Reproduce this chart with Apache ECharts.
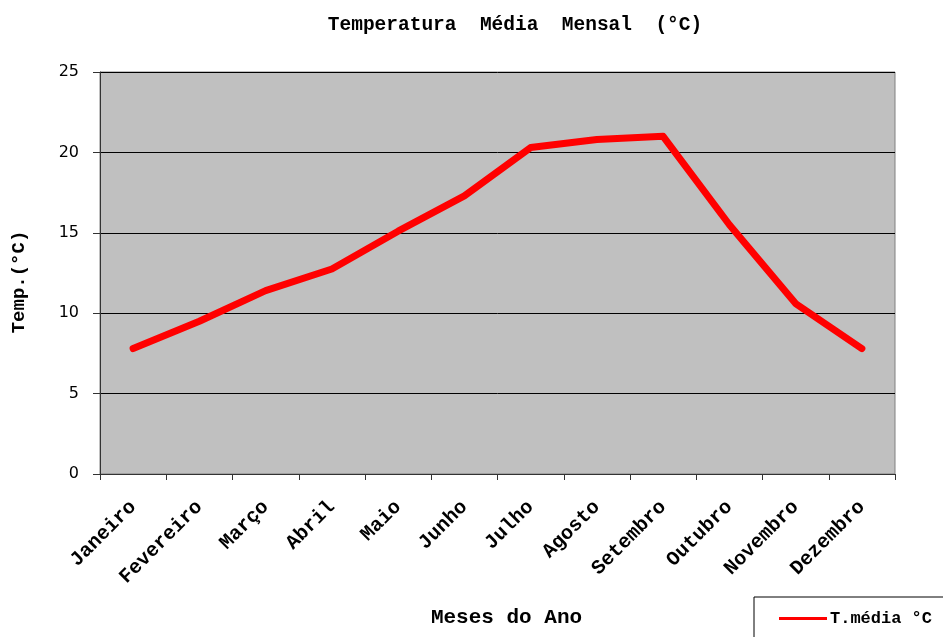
<!DOCTYPE html>
<html style="height: 100%;">
<head>
<meta charset="utf-8">
<title>Temperatura Média Mensal</title>
<script type="text/javascript" src="https://cdn.jsdelivr.net/npm/echarts@6/dist/echarts.min.js"></script>
</head>
<body style="height: 100%; margin: 0; background: #fff;">
<div id="container" style="width: 943px; height: 637px;"></div>
<script type="text/javascript">
var meses = ['Janeiro', 'Fevereiro', 'Março', 'Abril', 'Maio', 'Junho',
             'Julho', 'Agosto', 'Setembro', 'Outubro', 'Novembro', 'Dezembro'];
var tempMedia = [7.8, 9.5, 11.4, 12.75, 15.1, 17.3, 20.3, 20.8, 21.0, 15.5, 10.6, 7.8];
var nomeSerie = 'T.média °C';

var mono = '"Liberation Mono", "Courier New", monospace';
var sans = '"DejaVu Sans", Verdana, sans-serif';

var myChart = echarts.init(document.getElementById('container'));
var option = {
    backgroundColor: '#ffffff',
    animation: false,
    title: {
        text: 'Temperatura  Média  Mensal  (°C)',
        left: 510,
        top: 10,
        textAlign: 'center',
        textStyle: { fontFamily: mono, fontWeight: 'bold', fontSize: 19.5, color: '#000' }
    },
    legend: {
        data: [nomeSerie],
        left: 754,
        top: 597,
        padding: [13, 30, 30, 25],
        borderColor: '#000',
        borderWidth: 1,
        itemWidth: 48,
        itemHeight: 3,
        itemGap: 4,
        icon: 'rect',
        textStyle: { fontFamily: mono, fontWeight: 'bold', fontSize: 17, color: '#000', padding: [0, 0, 0, -2] }
    },
    grid: {
        left: 100, right: 48, top: 72, bottom: 163,
        show: true,
        backgroundColor: '#c0c0c0',
        borderColor: '#808080',
        borderWidth: 1
    },
    xAxis: {
        type: 'category',
        data: meses,
        boundaryGap: true,
        name: 'Meses do Ano',
        nameLocation: 'middle',
        nameGap: 133,
        nameTextStyle: { fontFamily: mono, fontWeight: 'bold', fontSize: 21, color: '#000', padding: [0, 0, 0, 18] },
        axisLine: { lineStyle: { color: '#333', width: 1 } },
        axisTick: { show: true, length: 6, alignWithLabel: false, lineStyle: { color: '#333' } },
        axisLabel: {
            rotate: 45,
            margin: 30,
            interval: 0,
            fontFamily: mono,
            fontWeight: 'bold',
            fontSize: 20,
            color: '#000'
        }
    },
    yAxis: {
        type: 'value',
        min: 0,
        max: 25,
        interval: 5,
        name: 'Temp.(°C)',
        nameLocation: 'middle',
        nameGap: 71,
        nameRotate: 90,
        nameTextStyle: { fontFamily: mono, fontWeight: 'bold', fontSize: 19, color: '#000', padding: [0, 18, 0, 0] },
        axisLine: { show: true, lineStyle: { color: '#333', width: 1 } },
        axisTick: { show: true, length: 7, lineStyle: { color: '#333' } },
        axisLabel: { margin: 21, fontFamily: sans, fontSize: 16, color: '#000' },
        splitLine: { show: true, lineStyle: { color: '#000', width: 1 } }
    },
    series: [{
        name: nomeSerie,
        type: 'line',
        data: tempMedia,
        symbol: 'none',
        smooth: false,
        lineStyle: { color: '#ff0000', width: 7, cap: 'round', join: 'round' },
        itemStyle: { color: '#ff0000' }
    }]
};
myChart.setOption(option);
</script>
</body>
</html>
